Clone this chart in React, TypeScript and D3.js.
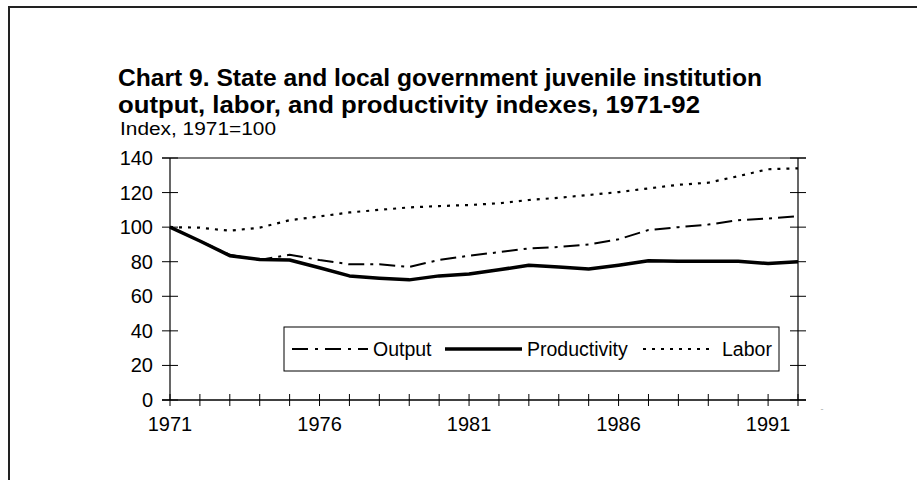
import * as d3 from "d3";

const years = d3.range(1971, 1993);
const output = [100, 92, 84, 81, 84, 81, 78.5, 78.5, 77, 81, 83.5, 85.5, 87.7, 88.5, 90, 93, 98.3, 100, 101.5, 104, 105, 106.4];
const productivity = [100, 92, 83.5, 81.3, 81, 76.5, 71.8, 70.5, 69.5, 71.8, 72.9, 75.3, 78, 77, 75.8, 78, 80.5, 80.3, 80.3, 80.2, 79, 80];
const labor = [100, 99.7, 97.9, 99.7, 104, 106.2, 108.5, 110, 111.4, 112.2, 112.8, 113.8, 115.7, 117, 118.6, 120.3, 122.4, 124.5, 125.7, 129.5, 133.5, 134];
const yTicks = [0, 20, 40, 60, 80, 100, 120, 140];
const xLabels = [1971, 1976, 1981, 1986, 1991];

const series = [
  { name: "Output", values: output, dash: "16,6,3,6", width: 2 },
  { name: "Productivity", values: productivity, dash: "none", width: 3.5 },
  { name: "Labor", values: labor, dash: "3,6", width: 2.2 },
];

export default function App() {
  const x = d3.scaleLinear().domain([1971, 1992]).range([170, 798]);
  const y = d3.scaleLinear().domain([0, 140]).range([400, 158]);
  const font = "'Liberation Sans', Arial, sans-serif";

  const line = (vals: number[]) =>
    d3.line<number>()
      .x((_, i) => x(years[i]))
      .y(d => y(d))(vals) || "";

  return (
    <svg width={917} height={480} style={{ position: "absolute", left: 0, top: 0 }} fontFamily={font}>
      <rect width={917} height={480} fill="#fff" />
      {/* outer frame */}
      <line x1={8} x2={917} y1={7} y2={7} stroke="#222" strokeWidth={2} />
      <line x1={9} x2={9} y1={7} y2={480} stroke="#222" strokeWidth={2} />

      <text x={118} y={86} fontSize={23} fontWeight="bold" fill="#000" textLength={644} lengthAdjust="spacingAndGlyphs">Chart 9. State and local government juvenile institution</text>
      <text x={118} y={113} fontSize={23} fontWeight="bold" fill="#000" textLength={582} lengthAdjust="spacingAndGlyphs">output, labor, and productivity indexes, 1971-92</text>
      <text x={120} y={135} fontSize={17.5} fill="#000" textLength={156} lengthAdjust="spacingAndGlyphs">Index, 1971=100</text>

      {/* axes frame */}
      <line x1={x(1971)} x2={x(1971)} y1={y(140)} y2={y(0)} stroke="#000" strokeWidth={1.2} />
      <line x1={x(1992)} x2={x(1992)} y1={y(140)} y2={y(0)} stroke="#000" strokeWidth={1.2} />
      <line x1={x(1971) - 8} x2={x(1992) + 8} y1={y(0)} y2={y(0)} stroke="#000" strokeWidth={1.5} />
      <line x1={x(1971) - 8} x2={x(1992) + 8} y1={y(140)} y2={y(140)} stroke="#000" strokeWidth={1} />
      {yTicks.map(t => (
        <g key={t}>
          <line x1={x(1971) - 8} x2={x(1971) + 8} y1={y(t)} y2={y(t)} stroke="#000" strokeWidth={1} />
          <line x1={x(1992) - 8} x2={x(1992) + 8} y1={y(t)} y2={y(t)} stroke="#000" strokeWidth={1} />
          <text x={153} y={y(t)} dy="0.35em" textAnchor="end" fontSize={20} fill="#000">{t}</text>
        </g>
      ))}
      {years.map(yr => (
        <line key={yr} x1={x(yr)} x2={x(yr)} y1={y(0) - 6} y2={y(0) + 6} stroke="#000" strokeWidth={1} />
      ))}
      {xLabels.map(yr => (
        <text key={yr} x={x(yr)} y={431} textAnchor="middle" fontSize={20} fill="#000">{yr}</text>
      ))}
      <text x={822} y={412} fontSize={9} fill="#aaa" textAnchor="middle">-</text>

      {series.map(s => (
        <path key={s.name} d={line(s.values)} fill="none" stroke="#000" strokeWidth={s.width}
          strokeDasharray={s.dash} strokeLinejoin="round" />
      ))}

      {/* legend */}
      <rect x={284} y={327} width={495} height={44} fill="#fff" stroke="#000" strokeWidth={1} />
      <line x1={292} x2={368} y1={349} y2={349} stroke="#000" strokeWidth={2} strokeDasharray="16,7,3,7" />
      <text x={373} y={349} dy="0.35em" fontSize={19.5} fill="#000">Output</text>
      <line x1={445} x2={522} y1={349} y2={349} stroke="#000" strokeWidth={3.5} />
      <text x={527} y={349} dy="0.35em" fontSize={19.5} fill="#000">Productivity</text>
      <line x1={643} x2={714} y1={349} y2={349} stroke="#000" strokeWidth={2.2} strokeDasharray="3,6" />
      <text x={722} y={349} dy="0.35em" fontSize={19.5} fill="#000">Labor</text>
    </svg>
  );
}
